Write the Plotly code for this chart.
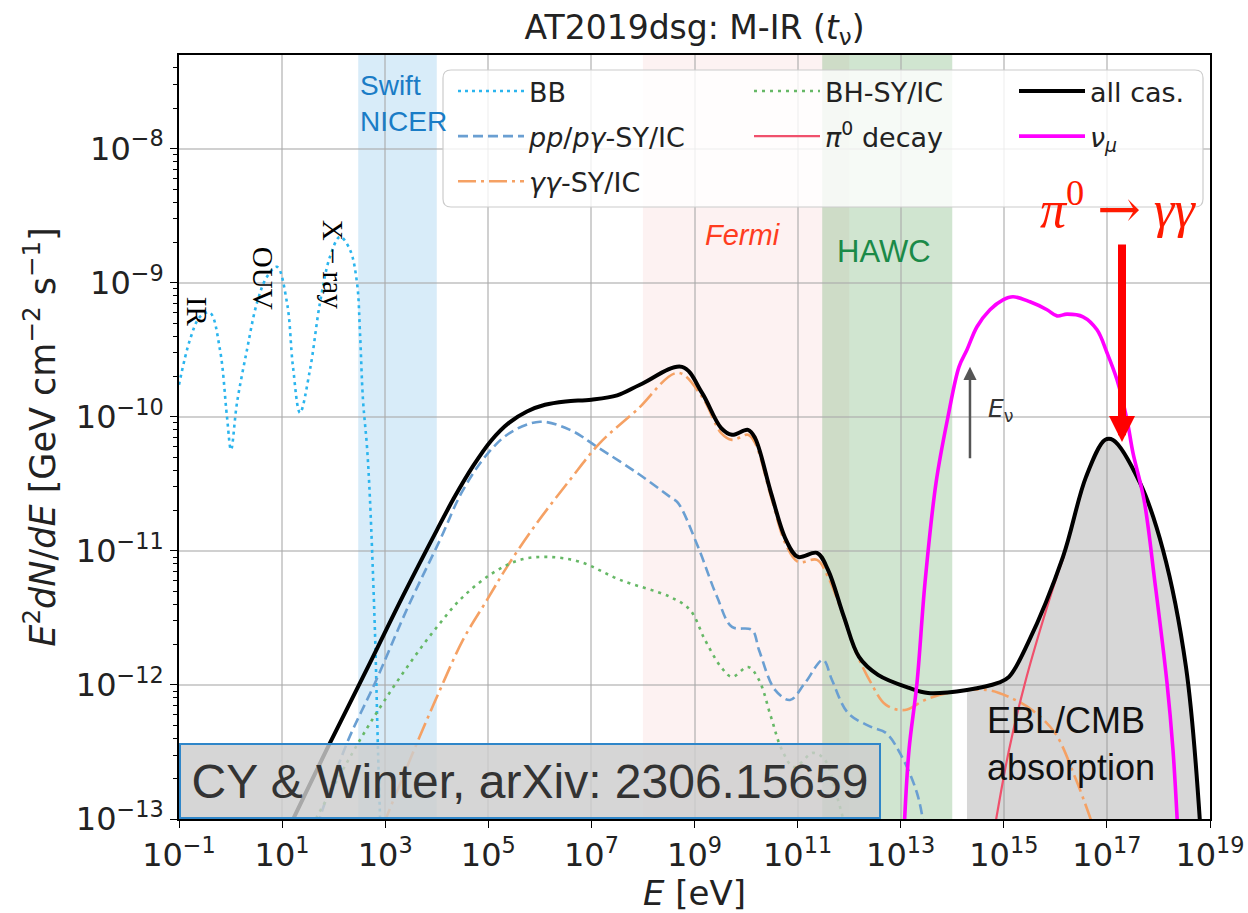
import numpy as np
import plotly.graph_objects as go

# ---- values ----
# energies as log10(E / eV), fluxes as log10(E^2 dN/dE / GeV cm^-2 s^-1)
bb_logE = [-1.000, -0.787, -0.593, -0.399, -0.205, -0.069, 0.009, 0.125, 0.319, 0.513, 0.707,
           0.901, 1.095, 1.211, 1.347, 1.541, 1.735, 1.929, 2.123, 2.317, 2.453, 2.511, 2.569,
           2.647, 2.705, 2.802, 2.860, 2.905]
bb_logF = [-9.761, -9.425, -9.254, -9.224, -9.500, -10.000, -10.246, -9.896, -9.500, -9.149, -8.955,
           -8.881, -9.149, -9.627, -9.970, -9.649, -9.149, -8.806, -8.657, -8.754, -9.000, -9.373,
           -9.873, -10.224, -10.619, -11.612, -12.485, -13.05]

pp_logE = [1.677, 2.259, 2.802, 3.442, 4.063, 4.490, 4.975, 5.421, 6.003, 6.585, 7.109, 7.885,
           8.525, 8.680, 9.068, 9.437, 9.727, 10.116, 10.251, 10.562, 10.853, 11.144, 11.493,
           11.667, 11.978, 12.424, 12.715, 13.025, 13.316, 13.45]
pp_logF = [-13.05, -12.433, -11.985, -11.418, -10.918, -10.560, -10.280, -10.119, -10.037, -10.097,
           -10.224, -10.418, -10.597, -10.642, -10.970, -11.343, -11.567, -11.590, -11.739, -12.037,
           -12.112, -11.985, -11.813, -11.963, -12.209, -12.313, -12.358, -12.537, -12.806, -13.05]

gg_logE = [2.957, 3.617, 4.063, 4.509, 4.975, 5.363, 5.945, 6.585, 7.167, 7.885, 8.680, 9.146,
           9.514, 9.727, 10.038, 10.174, 10.484, 10.775, 11.008, 11.376, 11.590, 11.823, 12.114,
           12.424, 12.715, 13.083, 13.471, 13.917, 14.655, 15.101, 15.547, 15.993, 16.381, 16.73]
gg_logF = [-13.05, -12.433, -12.037, -11.664, -11.366, -11.119, -10.791, -10.470, -10.194, -9.948,
           -9.672, -9.851, -10.119, -10.172, -10.134, -10.194, -10.597, -10.955, -11.082, -11.067,
           -11.194, -11.418, -11.739, -11.985, -12.149, -12.187, -12.112, -12.060, -12.037, -12.090,
           -12.187, -12.358, -12.687, -13.05]

bh_logE = [1.580, 2.511, 2.957, 3.481, 4.005, 4.509, 5.091, 5.615, 6.139, 6.779, 7.555, 8.525,
           8.913, 9.204, 9.514, 9.727, 10.038, 10.251, 10.484, 10.697, 10.930, 11.299, 11.532,
           11.745, 11.92]
bh_logF = [-13.05, -12.410, -12.134, -11.836, -11.567, -11.343, -11.164, -11.067, -11.045, -11.082,
           -11.216, -11.343, -11.440, -11.664, -11.866, -11.940, -11.866, -11.963, -12.239, -12.485,
           -12.612, -12.507, -12.560, -12.806, -13.05]

pi0_logE = [14.83, 15.101, 15.411, 15.780, 16.071, 16.148, 16.595, 16.963, 17.118, 17.642, 18.088,
            18.534, 18.81]
pi0_logF = [-13.05, -12.485, -11.985, -11.493, -11.142, -11.060, -10.455, -10.175, -10.175, -10.495,
            -10.995, -11.870, -13.05]

all_logE = [1.153, 1.929, 2.705, 3.345, 4.005, 4.350, 4.700, 5.050, 5.400, 5.750, 6.100, 6.500,
            7.000, 7.500, 7.943, 8.758, 9.146, 9.514, 9.727, 10.038, 10.174, 10.484, 10.775,
            11.008, 11.376, 11.590, 11.900, 12.191, 12.560, 13.161, 13.530, 14.286, 14.888,
            15.101, 15.470, 16.148, 16.595, 16.963, 17.118, 17.642, 18.088, 18.534, 18.81]
all_logF = [-13.05, -12.433, -11.836, -11.336, -10.843, -10.595, -10.370, -10.180, -10.045,
            -9.960, -9.910, -9.885, -9.872, -9.840, -9.761, -9.627, -9.821, -10.082, -10.134,
            -10.097, -10.157, -10.567, -10.918, -11.045, -11.015, -11.142, -11.493, -11.791,
            -11.925, -12.022, -12.060, -12.037, -11.985, -11.940, -11.687, -11.045, -10.448,
            -10.172, -10.172, -10.493, -10.993, -11.866, -13.05]

nu_logE = [13.07, 13.161, 13.316, 13.471, 13.685, 13.917, 14.131, 14.286, 14.480, 14.732, 14.984,
           15.178, 15.508, 15.838, 16.032, 16.226, 16.536, 16.808, 17.002, 17.196, 17.390, 17.506,
           17.720, 17.933, 18.166, 18.282, 18.37]
nu_logF = [-13.05, -12.485, -11.985, -11.239, -10.493, -10.000, -9.627, -9.500, -9.328, -9.201,
           -9.127, -9.104, -9.142, -9.201, -9.247, -9.234, -9.254, -9.351, -9.522, -9.724, -10.022,
           -10.269, -10.619, -11.239, -11.985, -12.485, -13.05]

ebl_start_logE = 14.28          # start of EBL/CMB absorption shading
swift_band = (3e2, 1e4)         # eV
fermi_band = (1e8, 1e12)
hawc_band = (3e11, 1e14)

x_ticks = [10.0 ** k for k in range(-1, 20, 2)]
x_ticktext = ["10<sup>%s</sup>" % (str(k).replace("-", "\u2212")) for k in range(-1, 20, 2)]
y_ticks = [10.0 ** k for k in range(-13, -7)]
y_ticktext = ["10<sup>%s</sup>" % (str(k).replace("-", "\u2212")) for k in range(-13, -7)]
y_minor = [m * 10.0 ** k for k in range(-13, -7) for m in range(2, 10) if m * 10.0 ** k < 5e-8]


def lin(v):
    return [10.0 ** t for t in v]


fig = go.Figure()

# EBL/CMB absorption shading under the total curve
i0 = next(i for i, e in enumerate(all_logE) if e >= ebl_start_logE)
fig.add_trace(go.Scatter(x=lin(all_logE[i0:]), y=lin(all_logF[i0:]), mode="lines",
                         line=dict(width=0, shape="spline"), fill="tozeroy",
                         fillcolor="rgba(150,150,150,0.38)", showlegend=False, hoverinfo="skip"))

LW = 2.6
fig.add_trace(go.Scatter(x=lin(bb_logE), y=lin(bb_logF), mode="lines", name="BB",
                         line=dict(color="#2bb5ee", width=LW, dash="3px,4px", shape="spline"),
                         legend="legend", legendgroup="a1"))
fig.add_trace(go.Scatter(x=lin(pp_logE), y=lin(pp_logF), mode="lines",
                         name="<i>pp</i>/<i>p\u03b3</i>-SY/IC",
                         line=dict(color="#6a9fd2", width=LW, dash="10px,5px", shape="spline"),
                         legend="legend", legendgroup="a2"))
fig.add_trace(go.Scatter(x=lin(gg_logE), y=lin(gg_logF), mode="lines",
                         name="<i>\u03b3\u03b3</i>-SY/IC",
                         line=dict(color="#f5a164", width=LW, dash="18px,5px,3px,5px", shape="spline"),
                         legend="legend", legendgroup="a3"))
fig.add_trace(go.Scatter(x=lin(bh_logE), y=lin(bh_logF), mode="lines", name="BH-SY/IC",
                         line=dict(color="#66b866", width=LW, dash="3px,5px", shape="spline"),
                         legend="legend2", legendgroup="b1"))
fig.add_trace(go.Scatter(x=lin(pi0_logE), y=lin(pi0_logF), mode="lines",
                         name="<i>\u03c0</i><sup>0</sup> decay",
                         line=dict(color="#f0506c", width=2.2, shape="spline"),
                         legend="legend2", legendgroup="b2"))
fig.add_trace(go.Scatter(x=lin(all_logE), y=lin(all_logF), mode="lines", name="all cas.",
                         line=dict(color="black", width=4, shape="spline"),
                         legend="legend3", legendgroup="c1"))
fig.add_trace(go.Scatter(x=lin(nu_logE), y=lin(nu_logF), mode="lines",
                         name="<i>\u03bd<sub>\u03bc</sub></i>",
                         line=dict(color="#ff00ff", width=3.6, shape="spline"),
                         legend="legend3", legendgroup="c2"))

shapes = []
for (a, b), col in [(swift_band, "rgba(100,180,230,0.25)"),
                    (fermi_band, "rgba(240,150,150,0.12)"),
                    (hawc_band, "rgba(100,170,100,0.30)")]:
    shapes.append(dict(type="rect", xref="x", yref="paper", x0=a, x1=b, y0=0, y1=1,
                       fillcolor=col, line=dict(width=0), layer="below"))

# legend frame (rounded)
L, R, T, B = 443, 1203, 70, 207
X0, X1, Y0, Y1 = 179.0, 1210.0, 819.0, 55.0


def px(xp):
    return (xp - X0) / (X1 - X0)


def py(yp):
    return (Y0 - yp) / (Y0 - Y1)


r = 8
path = ("M {a},{b} L {c},{b} Q {d},{b} {d},{e} L {d},{f} Q {d},{g} {c},{g} "
        "L {a},{g} Q {h},{g} {h},{f} L {h},{e} Q {h},{b} {a},{b} Z").format(
    a=px(L + r), b=py(T), c=px(R - r), d=px(R), e=py(T + r), f=py(B - r), g=py(B), h=px(L))
shapes.append(dict(type="path", xref="paper", yref="paper", path=path,
                   fillcolor="rgba(255,255,255,0.8)", line=dict(color="#cccccc", width=1.2),
                   layer="above"))

ann = []
ann.append(dict(x=2.472, y=-7.664, xref="x", yref="y", text="Swift<br>NICER", showarrow=False,
                xanchor="left", yanchor="middle", align="left",
                font=dict(family="Liberation Sans, Arial", size=28, color="#1a7cc6")))
for txt, xv, yv in [("IR", -0.651, -9.216), ("OUV", 0.629, -8.970), ("X \u2212 ray", 1.987, -8.866)]:
    ann.append(dict(x=xv, y=yv, xref="x", yref="y", text=txt, showarrow=False, textangle=90,
                    font=dict(family="Liberation Serif, Times New Roman", size=29, color="black")))
ann.append(dict(x=9.941, y=-8.642, xref="x", yref="y", text="<i>Fermi</i>", showarrow=False,
                font=dict(family="Liberation Sans, Arial", size=29, color="#ff3d1f")))
ann.append(dict(x=12.676, y=-8.769, xref="x", yref="y", text="HAWC", showarrow=False,
                font=dict(family="Liberation Sans, Arial", size=31, color="#1b8a48")))
ann.append(dict(x=17.215, y=-8.43, xref="x", yref="y",
                text=("<i>\u03c0</i><sup>0</sup> <span style='font-family:DejaVu Serif'>\u2192</span>"
                      " <i>\u03b3\u03b3</i>"),
                showarrow=False,
                font=dict(family="Liberation Serif, Times New Roman", size=52, color="#ff1a00")))
ann.append(dict(x=17.293, y=-10.187, xref="x", yref="y", text="", showarrow=True, ax=0, ay=-199,
                arrowhead=2, arrowsize=0.65, arrowwidth=8, arrowcolor="#ff0000"))
ann.append(dict(x=14.344, y=-9.627, xref="x", yref="y", text="", showarrow=True, ax=0, ay=93,
                arrowhead=2, arrowsize=1.05, arrowwidth=2.5, arrowcolor="#555555"))
ann.append(dict(x=14.655, y=-9.948, xref="x", yref="y", text="<i>E</i><sub>\u03bd</sub>",
                showarrow=False, xanchor="left",
                font=dict(family="DejaVu Sans", size=25, color="#333333")))
ann.append(dict(x=14.635, y=-12.440, xref="x", yref="y", text="EBL/CMB<br>absorption",
                showarrow=False, xanchor="left", align="left",
                font=dict(family="Liberation Sans, Arial", size=36, color="#111111")))
ann.append(dict(x=0, y=0, xref="paper", yref="paper", xanchor="left", yanchor="bottom",
                text="CY & Winter, arXiv: 2306.15659", showarrow=False, width=698, height=72,
                borderpad=0, borderwidth=2, bordercolor="#2f86c9", bgcolor="rgba(205,205,205,0.82)",
                font=dict(family="Liberation Sans, Arial", size=48, color="#333333")))

leg_common = dict(bgcolor="rgba(0,0,0,0)", borderwidth=0, itemwidth=66, tracegroupgap=7,
                  font=dict(family="DejaVu Sans", size=27, color="#222222"),
                  xanchor="left", yanchor="top", y=py(67), traceorder="grouped")

fig.update_layout(
    width=1248, height=913,
    margin=dict(l=179, r=38, t=55, b=94, autoexpand=False),
    paper_bgcolor="white", plot_bgcolor="white",
    font=dict(family="DejaVu Sans", color="#222222"),
    title=dict(text="AT2019dsg: M-IR (<i>t</i><sub>\u03bd</sub>)", x=0.5, xref="paper",
               y=1 - 27 / 913, yanchor="middle", xanchor="center",
               font=dict(family="DejaVu Sans", size=33, color="#222222")),
    shapes=shapes, annotations=ann,
    legend=dict(x=px(453), **leg_common),
    legend2=dict(x=px(749), **leg_common),
    legend3=dict(x=px(1014), **leg_common),
    xaxis=dict(type="log", range=[-1, 19], tickvals=x_ticks, ticktext=x_ticktext, automargin=False,
               showline=True, mirror=True, linecolor="black", linewidth=1.6,
               ticks="outside", ticklen=7, tickwidth=1.4, tickcolor="black",
               showgrid=True, gridcolor="rgba(170,170,170,0.55)", gridwidth=1.5, zeroline=False,
               tickfont=dict(family="DejaVu Sans", size=32, color="#222222"),
               title=dict(text="<i>E</i> [eV]", standoff=6,
                          font=dict(family="DejaVu Sans", size=34, color="#222222"))),
    yaxis=dict(type="log", range=[-13, np.log10(5e-8)], tickvals=y_ticks, ticktext=y_ticktext,
               automargin=False,
               showline=True, mirror=True, linecolor="black", linewidth=1.6,
               ticks="outside", ticklen=7, tickwidth=1.4, tickcolor="black",
               showgrid=True, gridcolor="rgba(170,170,170,0.55)", gridwidth=1.5, zeroline=False,
               minor=dict(tickvals=y_minor, ticks="outside", ticklen=4, tickwidth=1.1,
                          tickcolor="black", showgrid=False),
               tickfont=dict(family="DejaVu Sans", size=32, color="#222222"),
               title=dict(text="<i>E</i><sup>2</sup><i>dN</i>/<i>dE</i> [GeV cm<sup>\u22122</sup> s<sup>\u22121</sup>]",
                          standoff=10, font=dict(family="DejaVu Sans", size=35, color="#222222"))),
)

fig.write_html("out.html")
